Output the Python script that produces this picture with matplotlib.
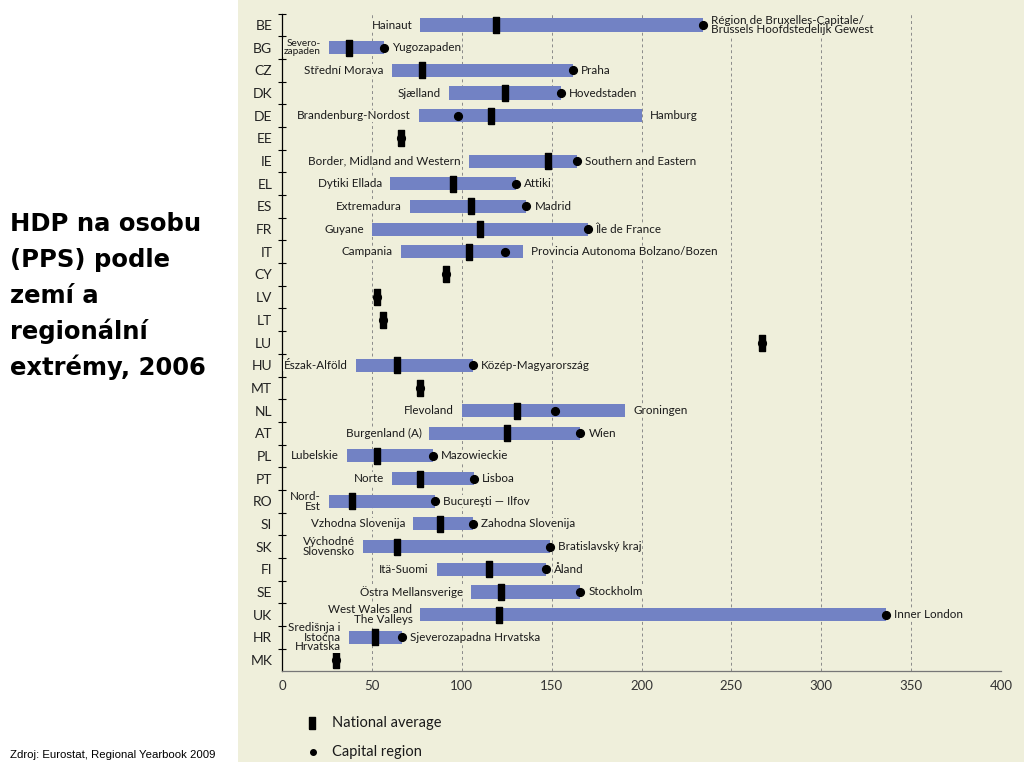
import matplotlib
matplotlib.use("Agg")
import matplotlib.pyplot as plt
from matplotlib.patches import Rectangle
from matplotlib.lines import Line2D
from matplotlib.ticker import FixedLocator

# GDP per inhabitant (PPS, EU-27 = 100), 2006
countries = ["BE", "BG", "CZ", "DK", "DE", "EE", "IE", "EL", "ES", "FR", "IT", "CY", "LV", "LT", "LU",
             "HU", "MT", "NL", "AT", "PL", "PT", "RO", "SI", "SK", "FI", "SE", "UK", "HR", "MK"]
region_min = [77, 26, 61, 93, 76, 66, 104, 60, 71, 50, 66, 91, 53, 56, 267,
              41, 77, 100, 82, 36, 61, 26, 73, 45, 86, 105, 77, 37, 30]
region_max = [234, 57, 162, 155, 200, 66, 164, 130, 136, 170, 134, 91, 53, 56, 267,
              106, 77, 191, 166, 84, 107, 85, 106, 149, 147, 166, 336, 67, 30]
national = [119, 37, 78, 124, 116, 66, 148, 95, 105, 110, 104, 91, 53, 56, 267,
            64, 77, 131, 125, 53, 77, 39, 88, 64, 115, 122, 121, 52, 30]
capital = [234, 57, 162, 155, 98, 66, 164, 130, 136, 170, 124, 91, 53, 56, 267,
           106, 77, 152, 166, 84, 107, 85, 106, 149, 147, 166, 336, 67, 30]

min_names = ["Hainaut", "Severo-\nzapaden", "Střední Morava", "Sjælland", "Brandenburg-Nordost", "",
             "Border, Midland and Western", "Dytiki Ellada", "Extremadura", "Guyane", "Campania",
             "", "", "", "", "Észak-Alföld", "", "Flevoland", "Burgenland (A)", "Lubelskie", "Norte",
             "Nord-\nEst", "Vzhodna Slovenija", "Východné\nSlovensko", "Itä-Suomi", "Östra Mellansverige",
             "West Wales and\nThe Valleys", "Središnja i\nIstočna\nHrvatska", ""]
max_names = ["Région de Bruxelles-Capitale/\nBrussels Hoofdstedelijk Gewest", "Yugozapaden", "Praha",
             "Hovedstaden", "Hamburg", "", "Southern and Eastern", "Attiki", "Madrid", "Île de France",
             "Provincia Autonoma Bolzano/Bozen", "", "", "", "", "Közép-Magyarország", "", "Groningen",
             "Wien", "Mazowieckie", "Lisboa", "Bucureşti — Ilfov", "Zahodna Slovenija", "Bratislavský kraj",
             "Åland", "Stockholm", "Inner London", "Sjeverozapadna Hrvatska", ""]

bg = "#EFEFDB"
bar_color = "#7282C4"
font = "Lato"

fig = plt.figure(figsize=(10.24, 7.68), dpi=100)
fig.patches.append(Rectangle((238 / 1024, 6 / 768), 786 / 1024, 762 / 768,
                             transform=fig.transFigure, facecolor=bg, edgecolor="none", zorder=-10))

ax = fig.add_axes([282 / 1024, 1 - 671.3 / 768, 719 / 1024, (671.3 - 13.7) / 768])
ax.set_facecolor(bg)

y = list(range(len(countries)))
widths = [b - a for a, b in zip(region_min, region_max)]

ax.barh(y, widths, left=region_min, height=0.58, color=bar_color, zorder=2)

ax.plot(capital, y, "o", color="black", markersize=5.6, linestyle="none", zorder=3)

rect = [(-0.33, -1), (0.33, -1), (0.33, 1), (-0.33, 1), (-0.33, -1)]
ax.plot(national, y, marker=rect, color="black", markersize=11.5, linestyle="none", zorder=4)

box = dict(boxstyle="square,pad=0.05", facecolor=bg, edgecolor="none")
for i in y:
    if min_names[i]:
        fs = 7.2 if i == 1 else 8.4
        ax.annotate(min_names[i], (region_min[i], i), xytext=(-8, 0), textcoords="offset pixels",
                    ha="right", va="center", fontsize=fs, family=font, linespacing=0.85,
                    color="#1a1a1a", bbox=box, zorder=5)
    if max_names[i]:
        ax.annotate(max_names[i], (region_max[i], i), xytext=(8, 0), textcoords="offset pixels",
                    ha="left", va="center", fontsize=8.4, family=font, linespacing=0.85,
                    color="#1a1a1a", bbox=box, zorder=5)

ax.set_xlim(0, 400)
ax.set_ylim(len(countries) - 0.5, -0.5)
ax.set_xticks(range(0, 401, 50))
ax.grid(axis="x", linestyle=(0, (3, 3)), color="#8a8a8a", linewidth=0.7)
ax.set_axisbelow(True)

ax.set_yticks(y)
ax.set_yticklabels(countries, fontsize=10, family=font, color="#222222")
ax.yaxis.set_minor_locator(FixedLocator([k + 0.5 for k in range(-1, len(countries) - 1)]))
ax.tick_params(axis="y", which="major", length=0, pad=7)
ax.tick_params(axis="y", which="minor", length=6, direction="inout", width=0.8, color="black")
ax.tick_params(axis="x", length=0, pad=6, labelsize=9.5, labelcolor="#333333")
for lab in ax.get_xticklabels():
    lab.set_family(font)

for s in ["top", "right"]:
    ax.spines[s].set_visible(False)
ax.spines["left"].set_color("black")
ax.spines["left"].set_linewidth(0.9)
ax.spines["bottom"].set_color("#777777")
ax.spines["bottom"].set_linewidth(0.9)

# legend
fig.add_artist(Line2D([312 / 1024], [1 - 723 / 768], marker=[(-0.5, -1), (0.5, -1), (0.5, 1), (-0.5, 1), (-0.5, -1)],
                      markersize=9, color="black", linestyle="none", transform=fig.transFigure))
fig.add_artist(Line2D([313 / 1024], [1 - 752 / 768], marker="o", markersize=4, color="black",
                      linestyle="none", transform=fig.transFigure))
fig.text(332 / 1024, 1 - 723 / 768, "National average", fontsize=10.5, family=font, va="center", color="#1a1a1a")
fig.text(332 / 1024, 1 - 752 / 768, "Capital region", fontsize=10.5, family=font, va="center", color="#1a1a1a")

# title block on the left
title_lines = ["HDP na osobu", "(PPS) podle", "zemí a", "regionální", "extrémy, 2006"]
for k, line in enumerate(title_lines):
    fig.text(10 / 1024, 1 - (230.7 + 36.1 * k) / 768, line, fontsize=17.5, fontweight="bold",
             family="DejaVu Sans", va="baseline", ha="left", color="black")

fig.text(10 / 1024, 1 - 758 / 768, "Zdroj: Eurostat, Regional Yearbook 2009", fontsize=8.2,
         family="Liberation Sans", va="baseline", ha="left", color="black")

fig.savefig("out.png", dpi=100, facecolor="white")
